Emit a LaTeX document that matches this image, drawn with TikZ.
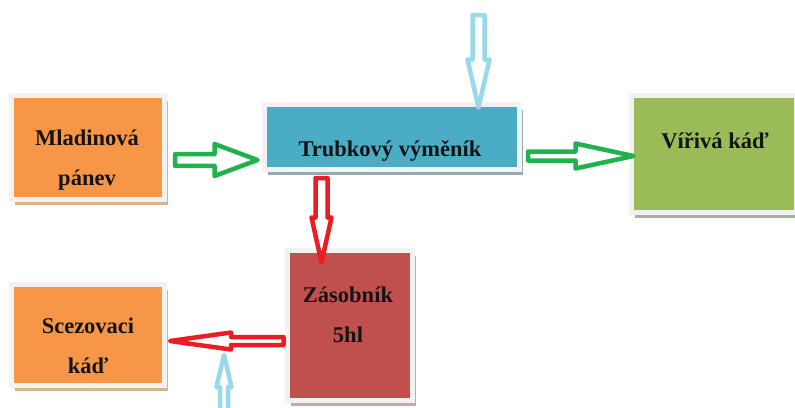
\documentclass[tikz,border=0pt]{standalone}
\usepackage{fontspec}
\setmainfont{Liberation Serif}
\usetikzlibrary{calc,shadows}
\definecolor{orgfill}{HTML}{F79646}
\definecolor{orgshadow}{HTML}{D9B28E}
\definecolor{bluefill}{HTML}{4BACC6}
\definecolor{blueshadow}{HTML}{93ABB4}
\definecolor{greenfill}{HTML}{9BBB59}
\definecolor{greenshadow}{HTML}{A8B39A}
\definecolor{redfill}{HTML}{C0504D}
\definecolor{redshadow}{HTML}{C6A9A8}
\definecolor{framegray}{HTML}{F2F2F2}
\definecolor{arrgreen}{HTML}{22B14C}
\definecolor{arrred}{HTML}{ED1C24}
\definecolor{arrblue}{HTML}{99D9EA}
\definecolor{txtblack}{HTML}{141414}
\newcommand\blockarrow[6]{%
  \coordinate (bA) at (#2);
  \coordinate (bB) at (#3);
  \coordinate (bH) at ($(bB)!#6!(bA)$);
  \filldraw[blockarr, draw=#1] ($(bA)!#4!90:(bB)$) -- ($(bH)!#4!-90:(bA)$) -- ($(bH)!#5!-90:(bA)$) -- (bB) -- ($(bH)!#5!90:(bA)$) -- ($(bH)!#4!90:(bA)$) -- ($(bA)!#4!-90:(bB)$) -- cycle;
}
\tikzset{
  box/.style={rectangle, draw=framegray, line width=5pt, inner sep=0pt,
    drop shadow={shadow xshift=3.5pt, shadow yshift=-5pt, fill=#1, opacity=1}},
  lbl/.style={font=\bfseries\fontsize{22.5}{39.5}\selectfont, text=txtblack, align=center, inner sep=0pt, anchor=base},
  blockarr/.style={fill=white, line width=4.5pt, line join=round}
}
\begin{document}
\begin{tikzpicture}[x=1pt,y=-1pt]
\useasboundingbox (0,0) rectangle (795,407);
\fill[white] (0,0) rectangle (795,407);
\begin{scope}
\clip (0,0) rectangle (795,407);
% boxes
\node[box=orgshadow, fill=orgfill, minimum width=153pt, minimum height=104pt] (mlad) at (88,147.5) {};
\node[box=blueshadow, fill=bluefill, minimum width=255pt, minimum height=65pt] (trub) at (392,137) {};
\node[box=greenshadow, fill=greenfill, minimum width=165pt, minimum height=117pt] (vir) at (714,154) {};
\node[box=redshadow, fill=redfill, minimum width=125pt, minimum height=150pt] (zas) at (350,325.5) {};
\node[box=orgshadow, fill=orgfill, minimum width=153pt, minimum height=101pt] (scez) at (88,335) {};
% labels (anchor at baseline of last line)
\node[lbl] (mladT) at (87,185) {Mladinová\\pánev};
\node[lbl] (trubT) at (390,156) {Trubkový výměník};
\node[lbl] (virT) at (715,148) {Vířivá káď};
\node[lbl] (zasT) at (348,342) {Zásobník\\5hl};
\node[lbl] (scezT) at (88,373) {Scezovaci\\káď};
% free ends
\coordinate (coolin) at ($(trub.north)+(86.5,-87)$);
\coordinate (coolin2) at ($(scez.east)+(57,77)$);
% arrows
\blockarrow{arrgreen}{$(mlad.east)+(8,12.5)$}{$(trub.west)+(-4.5,23)$}{5.8pt}{16pt}{43pt}
\blockarrow{arrgreen}{$(trub.east)+(6,19)$}{$(vir.west)+(4.5,2)$}{4.5pt}{12.5pt}{58pt}
\blockarrow{arrblue}{coolin}{$(trub.north)+(86.5,5.5)$}{6pt}{11pt}{48pt}
\blockarrow{arrred}{$(trub.south)+(-70.5,6)$}{$(zas.north)+(-28.5,14.5)$}{6pt}{10pt}{45pt}
\blockarrow{arrblue}{coolin2}{$(scez.east)+(57,20)$}{4pt}{7.5pt}{32pt}
\blockarrow{arrred}{$(zas.west)+(-1.5,15.5)$}{$(scez.east)+(3,6)$}{4pt}{8.5pt}{61pt}
\end{scope}
\end{tikzpicture}
\end{document}
